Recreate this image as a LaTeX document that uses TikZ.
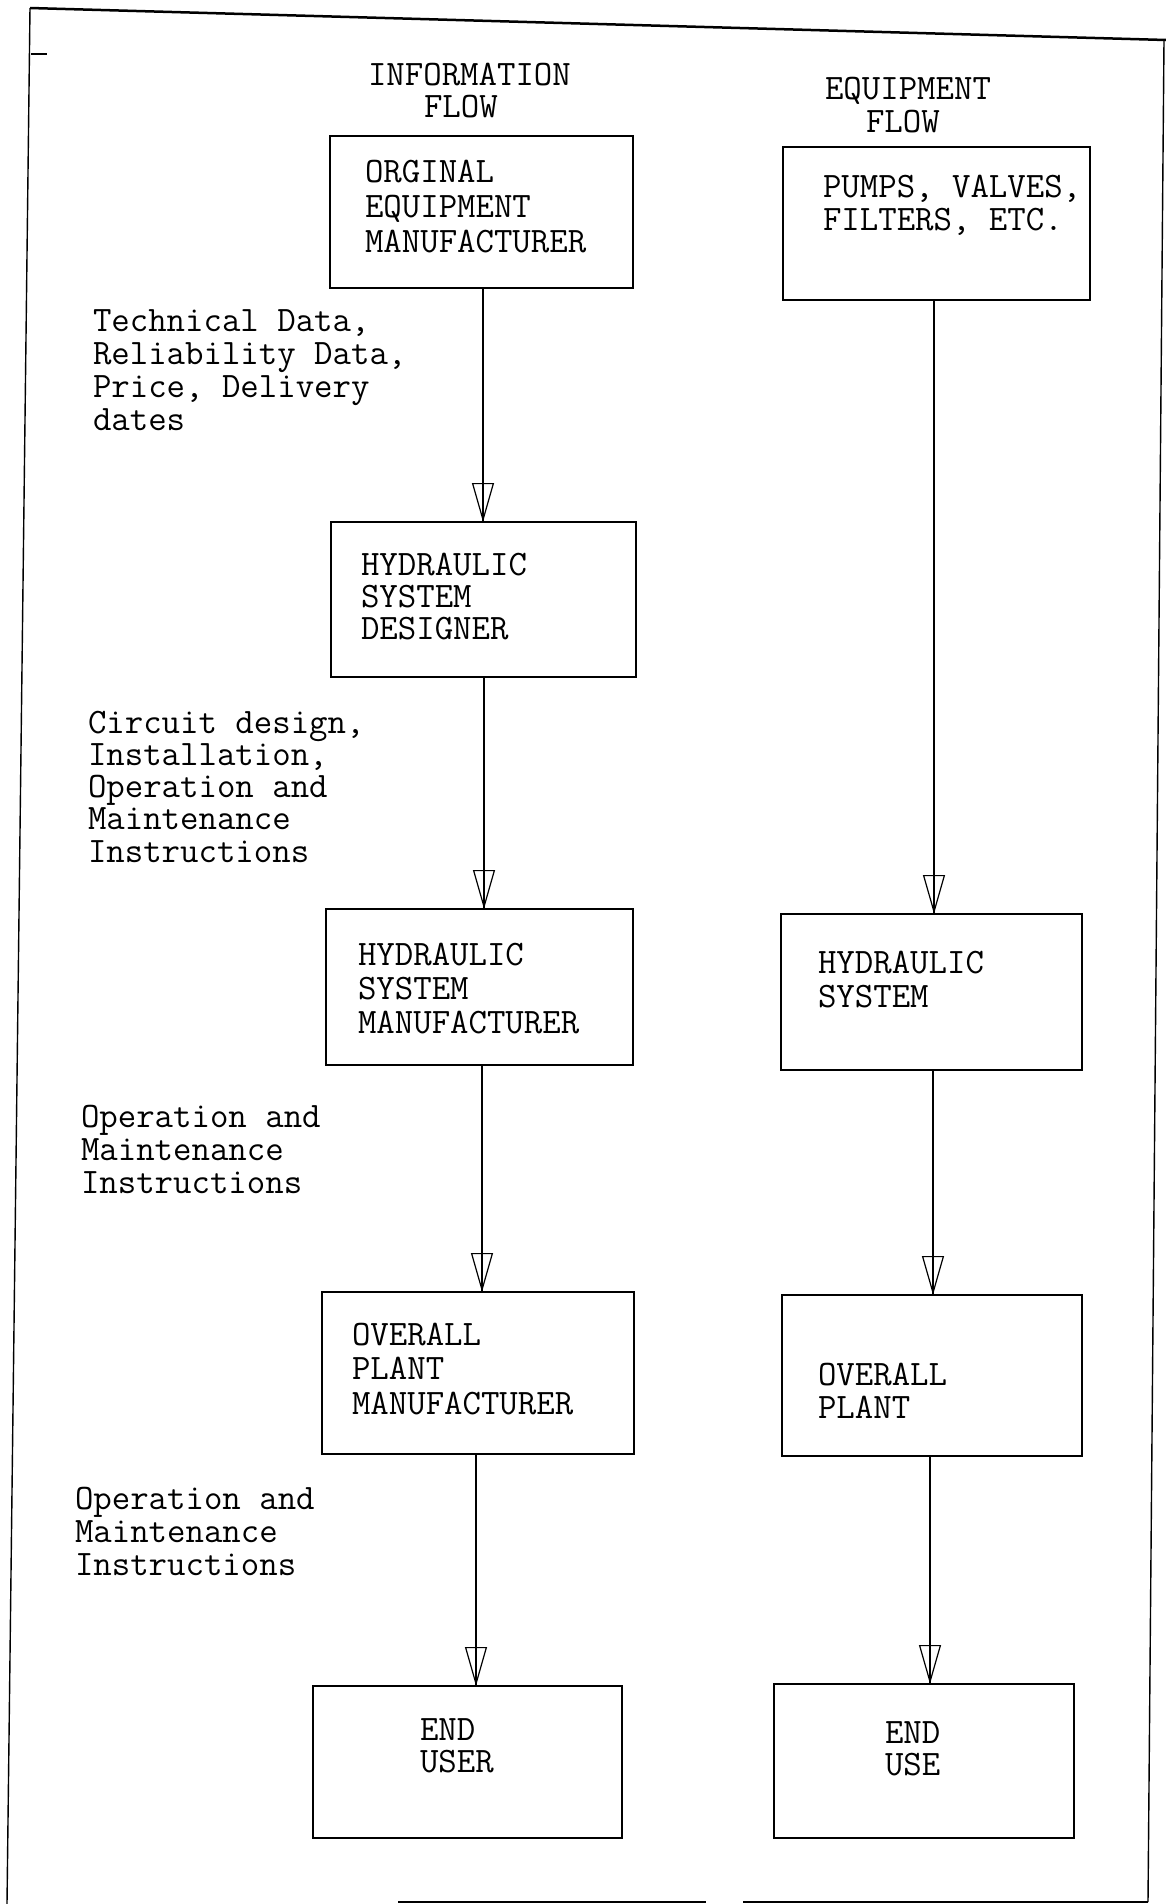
\documentclass[tikz,border=0pt]{standalone}
\usepackage{fontspec}
\setmonofont{Latin Modern Mono}
\usetikzlibrary{arrows.meta}
\newcommand\typelines[2]{{\fontsize{35.8}{#1}\selectfont\begin{tabular}[t]{@{}l@{}}#2\end{tabular}}}
\begin{document}
\begin{tikzpicture}[x=1pt,y=-1pt,
  box/.style={draw, line width=1.8pt, rectangle, inner sep=0pt, outer sep=0pt, anchor=north west},
  txt/.style={font=\ttfamily, inner sep=0pt, outer sep=0pt, anchor=base west},
  conn/.style={line width=1.1pt, postaction={draw, line width=1.1pt, -{Triangle[open, length=39pt, width=22pt, line width=1.2pt]}}},
  framethick/.style={line width=2.5pt},
  framethin/.style={line width=1.4pt}
]
\fill[white] (0,0) rectangle (1166,1904);
\useasboundingbox (0,0) rectangle (1166,1904);

% frame
\coordinate (tl) at (30,8);
\coordinate (tr) at (1166,40);
\coordinate (rt) at (1164,40);
\coordinate (rb) at (1148,1902);
\coordinate (bl) at (7,1904);
\coordinate (b1) at (398,1902);
\coordinate (b2) at (706,1902);
\coordinate (b3) at (743,1902);
\coordinate (tk1) at (31,54);
\coordinate (tk2) at (47,54);
\draw[framethick] (tl) -- (tr);
\draw[framethin] (tl) -- (bl);
\draw[framethin] (rt) -- (rb);
\draw[framethick] (b1) -- (b2);
\draw[framethick] (b3) -- (rb);
\draw[framethin] (tk1) -- (tk2);

% headers
\node[txt] (hinfo) at (368,85) {\typelines{32}{INFORMATION\\\hspace*{56pt}FLOW}};
\node[txt] (hequip) at (825,99) {\typelines{33}{EQUIPMENT\\\hspace*{41pt}FLOW}};

% left column boxes
\node[box, minimum width=303pt, minimum height=152pt] (A1) at (330,136) {};
\node[box, minimum width=305pt, minimum height=155pt] (A2) at (331,522) {};
\node[box, minimum width=307pt, minimum height=156pt] (A3) at (326,909) {};
\node[box, minimum width=312pt, minimum height=162pt] (A4) at (322,1292) {};
\node[box, minimum width=309pt, minimum height=152pt] (A5) at (313,1686) {};

\node[txt] (A1t) at (365,182) {\typelines{35}{ORGINAL\\EQUIPMENT\\MANUFACTURER}};
\node[txt] (A2t) at (361,575) {\typelines{32}{HYDRAULIC\\SYSTEM\\DESIGNER}};
\node[txt] (A3t) at (358,965) {\typelines{34}{HYDRAULIC\\SYSTEM\\MANUFACTURER}};
\node[txt] (A4t) at (352,1345) {\typelines{34.5}{OVERALL\\PLANT\\MANUFACTURER}};
\node[txt] (A5t) at (420,1740) {\typelines{32}{END\\USER}};

% right column boxes
\node[box, minimum width=307pt, minimum height=153pt] (B1) at (783,147) {};
\node[box, minimum width=301pt, minimum height=156pt] (B2) at (781,914) {};
\node[box, minimum width=300pt, minimum height=161pt] (B3) at (782,1295) {};
\node[box, minimum width=300pt, minimum height=154pt] (B4) at (774,1684) {};

\node[txt] (B1t) at (823,197) {\typelines{33}{PUMPS, VALVES,\\FILTERS, ETC.}};
\node[txt] (B2t) at (818,973) {\typelines{34}{HYDRAULIC\\SYSTEM}};
\node[txt] (B3t) at (818,1385) {\typelines{33}{OVERALL\\PLANT}};
\node[txt] (B4t) at (885,1743) {\typelines{32}{END\\USE}};

% side labels
\node[txt] (L1) at (93,331) {\typelines{33}{Technical Data,\\Reliability Data,\\Price, Delivery\\dates}};
\node[txt] (L2) at (88,733) {\typelines{32.3}{Circuit design,\\Installation,\\Operation and\\Maintenance\\Instructions}};
\node[txt] (L3) at (81,1127) {\typelines{33}{Operation and\\Maintenance\\Instructions}};
\node[txt] (L4) at (75,1509) {\typelines{33}{Operation and\\Maintenance\\Instructions}};

% connector columns
\coordinate (xa1) at (483,0);
\coordinate (xa2) at (484,0);
\coordinate (xa3) at (482,0);
\coordinate (xa4) at (476,0);
\coordinate (xb1) at (934,0);
\coordinate (xb2) at (933,0);
\coordinate (xb3) at (930,0);

\draw[conn] (A1.south -| xa1) -- (A2.north -| xa1);
\draw[conn] (A2.south -| xa2) -- (A3.north -| xa2);
\draw[conn] (A3.south -| xa3) -- (A4.north -| xa3);
\draw[conn] (A4.south -| xa4) -- (A5.north -| xa4);
\draw[conn] (B1.south -| xb1) -- (B2.north -| xb1);
\draw[conn] (B2.south -| xb2) -- (B3.north -| xb2);
\draw[conn] (B3.south -| xb3) -- (B4.north -| xb3);
\end{tikzpicture}
\end{document}
